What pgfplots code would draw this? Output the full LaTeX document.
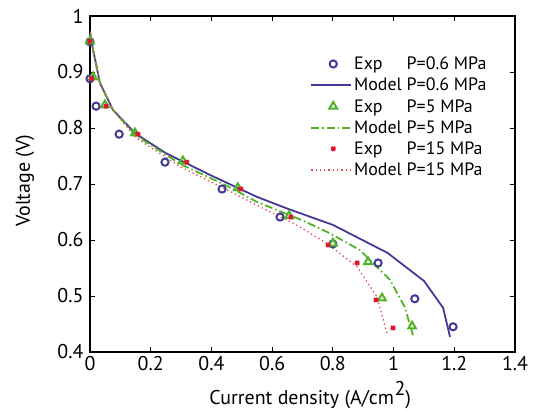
\documentclass[border=0pt]{standalone}
\usepackage{fontspec}
\setmainfont{PT Sans}
\usepackage{pgfplots}
\pgfplotsset{compat=1.18}
\definecolor{cblue}{RGB}{68,58,150}
\definecolor{cgreen}{RGB}{80,180,40}
\definecolor{cred}{RGB}{225,20,45}
\definecolor{cpink}{RGB}{235,70,90}
\pgfplotsset{
  mylegline/.style={legend image code/.code={\draw[##1] (0bp,0bp) -- (40bp,0bp);}},
  mylegmark/.style={legend image code/.code={\draw[mark repeat=2,mark phase=2,##1] plot coordinates {(0bp,0bp)(22bp,0bp)(40bp,0bp)};}},
}
\begin{document}
\begin{tikzpicture}
\path[use as bounding box] (-90bp,-60bp) rectangle (443bp,352bp);
\begin{axis}[
  scale only axis, width=425bp, height=336bp,
  xmin=0, xmax=1.4, ymin=0.4, ymax=1,
  xtick={0,0.2,...,1.4}, ytick={0.4,0.5,...,1.0},
  xticklabels={0,0.2,0.4,0.6,0.8,1,1.2,1.4},
  yticklabels={0.4,0.5,0.6,0.7,0.8,0.9,1},
  tick align=inside, major tick length=5bp,
  axis line style={line width=1.8bp},
  every tick/.style={black, line width=1bp},
  font=\fontsize{20}{24}\selectfont,
  /pgf/number format/assume math mode=true,
  xticklabel style={yshift=-1bp},
  yticklabel style={xshift=-3bp},
  xlabel={Current density (A/cm\kern0.5bp\raisebox{0.45em}{2})},
  ylabel={Voltage (V)},
  xlabel style={at={(axis description cs:0.518,-0.157)}, anchor=base},
  ylabel style={at={(axis description cs:-0.153,0.51)}, anchor=center},
  legend cell align=left,
  legend style={at={(0.518,0.885)}, anchor=north west, draw=none, fill=none, inner sep=0pt,
    font=\fontsize{18}{21}\selectfont, row sep=3bp},
]
\addplot[only marks, mark=o, cblue, line width=2bp, mark size=3.6bp, mylegmark]
 coordinates {(0,0.954)(0,0.888)(0.02,0.839)(0.096,0.789)(0.247,0.739)(0.435,0.691)(0.626,0.641)(0.80,0.593)(0.949,0.559)(1.07,0.495)(1.196,0.445)};
\addlegendentry{\rlap{Exp}\hphantom{Model} P=0.6 MPa}
\addplot[cblue, line width=1.8bp, no marks, mylegline]
 coordinates {(0,0.972)(0.01,0.94)(0.033,0.88)(0.076,0.832)(0.15,0.79)(0.25,0.755)(0.4,0.715)(0.55,0.677)(0.65,0.656)(0.8,0.627)(0.98,0.577)(1.1,0.527)(1.163,0.479)(1.186,0.427)};
\addlegendentry{Model P=0.6 MPa}
\addplot[only marks, mark=triangle, cgreen, line width=2bp, mark size=4.5bp, mylegmark]
 coordinates {(0,0.955)(0.01,0.891)(0.049,0.841)(0.148,0.791)(0.306,0.741)(0.487,0.693)(0.656,0.643)(0.80,0.594)(0.916,0.561)(0.962,0.496)(1.061,0.446)};
\addlegendentry{\rlap{Exp}\hphantom{Model} P=5 MPa}
\addplot[cgreen, line width=1.8bp, no marks, dash pattern=on 8bp off 3bp on 1.5bp off 3bp, mylegline]
 coordinates {(0,0.972)(0.01,0.94)(0.033,0.88)(0.076,0.832)(0.15,0.787)(0.3,0.735)(0.45,0.697)(0.55,0.668)(0.7,0.635)(0.79,0.612)(0.889,0.582)(0.988,0.529)(1.037,0.48)(1.064,0.43)};
\addlegendentry{Model P=5 MPa}
\addplot[only marks, mark=x, cred, line width=2.4bp, mark size=2.6bp, mylegmark]
 coordinates {(0,0.955)(0.005,0.888)(0.053,0.839)(0.158,0.789)(0.319,0.739)(0.497,0.691)(0.662,0.641)(0.784,0.591)(0.88,0.559)(0.942,0.493)(0.998,0.443)};
\addlegendentry{\rlap{Exp}\hphantom{Model} P=15 MPa}
\addplot[cpink, line width=1.3bp, no marks, dash pattern=on 1.3bp off 3bp, mylegline]
 coordinates {(0,0.972)(0.01,0.94)(0.033,0.88)(0.076,0.832)(0.15,0.783)(0.3,0.73)(0.45,0.69)(0.55,0.662)(0.68,0.627)(0.78,0.594)(0.88,0.552)(0.945,0.499)(0.978,0.434)};
\addlegendentry{Model P=15 MPa}
\end{axis}
\end{tikzpicture}
\end{document}
